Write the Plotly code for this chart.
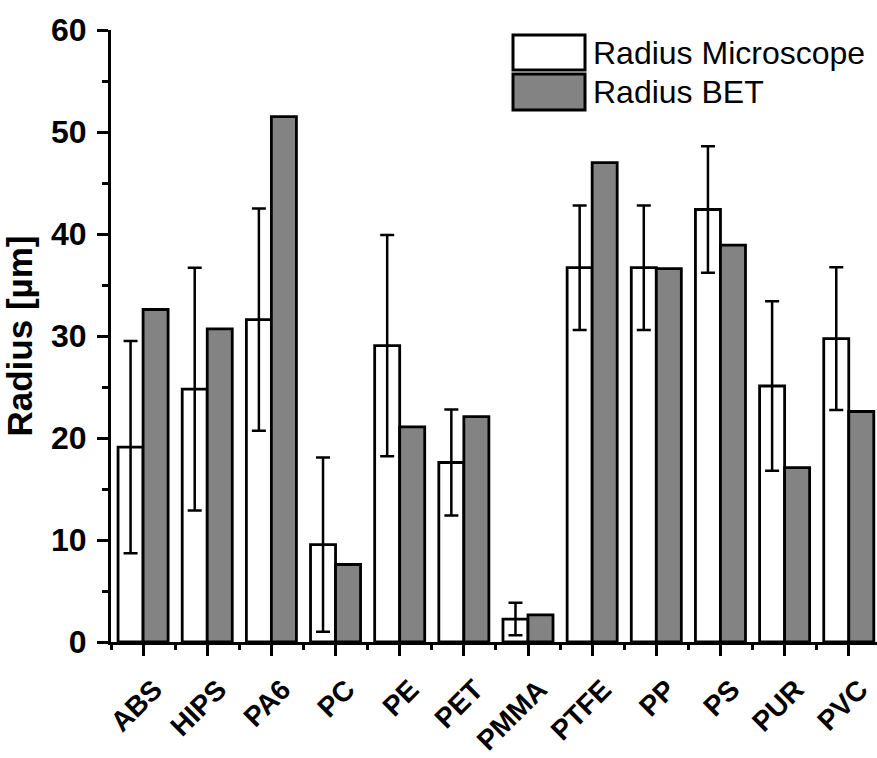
import plotly.graph_objects as go

# Particle radii per polymer, in micrometres
polymers = ["ABS", "HIPS", "PA6", "PC", "PE", "PET", "PMMA", "PTFE", "PP", "PS", "PUR", "PVC"]
radius_microscope = [19.1, 24.8, 31.6, 9.55, 29.05, 17.6, 2.25, 36.7, 36.7, 42.4, 25.1, 29.75]
radius_microscope_err = [10.4, 11.9, 10.9, 8.55, 10.85, 5.2, 1.6, 6.1, 6.1, 6.2, 8.3, 7.0]
radius_bet = [32.6, 30.7, 51.5, 7.6, 21.1, 22.1, 2.65, 47.0, 36.6, 38.9, 17.1, 22.6]

y_ticks = [0, 10, 20, 30, 40, 50, 60]

positions = list(range(len(polymers)))
GRAY = "#838383"


def bold(size):
    return dict(family="Arial", size=size, color="black", weight="bold")


fig = go.Figure()
fig.add_trace(go.Bar(
    x=positions, y=radius_microscope, name="Radius Microscope",
    marker=dict(color="white", line=dict(color="black", width=2.8)),
    error_y=dict(type="data", array=radius_microscope_err, visible=True,
                 color="black", thickness=2.5, width=7),
    showlegend=False,
))
fig.add_trace(go.Bar(
    x=positions, y=radius_bet, name="Radius BET",
    marker=dict(color=GRAY, line=dict(color="black", width=2.8)),
    showlegend=False,
))

# Legend block: large swatches with labels
legend_items = [("Radius Microscope", "white", 0.9918, 0.9346),
                ("Radius BET", GRAY, 0.9281, 0.8693)]
shapes = []
annotations = []
for label, color, top, bottom in legend_items:
    shapes.append(dict(type="rect", xref="paper", yref="paper",
                       x0=0.5248, x1=0.6188, y0=bottom, y1=top,
                       fillcolor=color, line=dict(color="black", width=3)))
    annotations.append(dict(xref="paper", yref="paper", x=0.626, y=(top + bottom) / 2,
                            text=label, showarrow=False, xanchor="left", yanchor="middle",
                            font=dict(family="Arial", size=32, color="black")))

fig.update_layout(
    width=877, height=758,
    margin=dict(l=111, r=0, t=30, b=116),
    paper_bgcolor="white", plot_bgcolor="white",
    barmode="group", bargap=0.22, bargroupgap=0,
    shapes=shapes, annotations=annotations,
)
fig.update_xaxes(
    range=[-0.5, 11.44], tickvals=positions, ticktext=polymers,
    tickangle=-45, tickfont=bold(28),
    ticklabelshift=11, ticklabelstandoff=6, ticklabeloverflow="allow",
    automargin=False,
    showline=True, linecolor="black", linewidth=3,
    ticks="outside", ticklen=11, tickwidth=3, tickcolor="black",
    minor=dict(tick0=0.5, dtick=1, ticks="outside", ticklen=5, tickwidth=3, tickcolor="black"),
    showgrid=False, zeroline=False,
)
fig.update_yaxes(
    range=[0, 60], tickvals=y_ticks, tickfont=bold(32),
    title=dict(text="Radius [µm]", font=bold(35), standoff=8),
    automargin=False,
    showline=True, linecolor="black", linewidth=3,
    ticks="outside", ticklen=11, tickwidth=3, tickcolor="black",
    ticklabelstandoff=4,
    minor=dict(dtick=5, ticks="outside", ticklen=6, tickwidth=3, tickcolor="black"),
    showgrid=False, zeroline=False,
)

fig.write_html("out.html")
